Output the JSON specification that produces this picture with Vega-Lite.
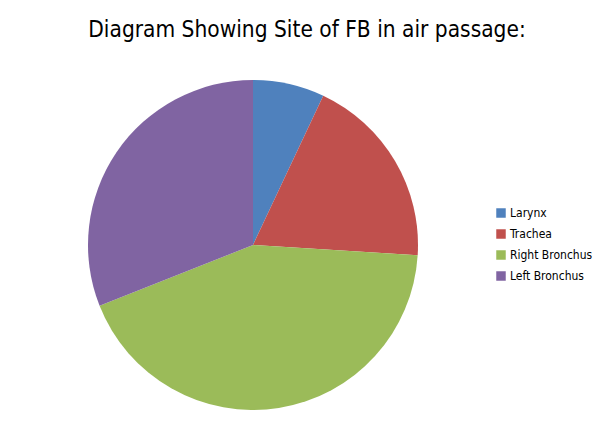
{
  "$schema": "https://vega.github.io/schema/vega-lite/v6.json",
  "autosize": "none",
  "width": 506,
  "height": 490,
  "padding": {"left": 0, "top": 0, "right": 97, "bottom": 0},
  "background": "white",
  "title": {
    "text": "Diagram Showing Site of FB in air passage:",
    "anchor": "middle",
    "dx": 54,
    "dy": 45,
    "font": "'DejaVu Sans Condensed', Lato",
    "fontSize": 22.5,
    "fontWeight": "normal",
    "color": "#000000"
  },
  "data": {
    "values": [
      {"site": "Larynx", "percent": 7, "order": 1},
      {"site": "Trachea", "percent": 19, "order": 2},
      {"site": "Right Bronchus", "percent": 43, "order": 3},
      {"site": "Left Bronchus", "percent": 31, "order": 4}
    ]
  },
  "mark": {"type": "arc", "outerRadius": 165},
  "encoding": {
    "theta": {"field": "percent", "type": "quantitative", "stack": true},
    "order": {"field": "order", "type": "quantitative"},
    "color": {
      "field": "site",
      "type": "nominal",
      "sort": ["Larynx", "Trachea", "Right Bronchus", "Left Bronchus"],
      "scale": {
        "domain": ["Larynx", "Trachea", "Right Bronchus", "Left Bronchus"],
        "range": ["#4F81BD", "#C0504D", "#9BBB59", "#8064A2"]
      },
      "legend": {
        "title": null,
        "orient": "none",
        "legendX": 495,
        "legendY": 207,
        "symbolType": "square",
        "symbolSize": 90,
        "symbolStrokeWidth": 0,
        "labelFont": "'DejaVu Sans Condensed', Lato",
        "labelFontSize": 12,
        "labelColor": "#000000",
        "labelOffset": 3,
        "rowPadding": 9
      }
    }
  },
  "config": {"view": {"stroke": null}}
}
